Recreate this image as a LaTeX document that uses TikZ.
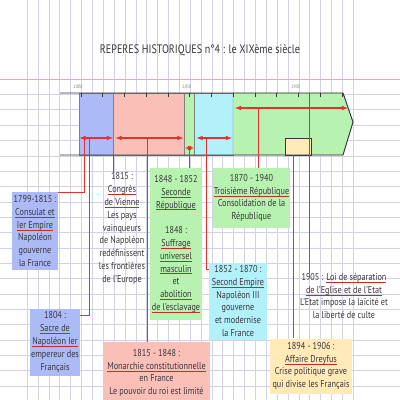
\documentclass[tikz,border=0pt]{standalone}
\usepackage{fontspec}
\setmainfont{PT Sans}[FakeStretch=0.82]
\usetikzlibrary{arrows}
\definecolor{ink}{RGB}{55,55,60}
\definecolor{gridc}{RGB}{210,210,228}
\definecolor{margin}{RGB}{230,160,220}
\definecolor{conred}{RGB}{225,50,45}
\definecolor{ulred}{RGB}{195,45,40}
\definecolor{cblue}{RGB}{172,186,246}
\definecolor{cpink}{RGB}{250,192,184}
\definecolor{cgreen}{RGB}{184,242,176}
\definecolor{ccyan}{RGB}{178,240,250}
\definecolor{cyellow}{RGB}{255,234,184}
\newcommand\rl[1]{\setbox0\hbox{#1}\rlap{\textcolor{ulred}{\rule[-2.2pt]{\wd0}{0.8pt}}}\box0}

\begin{document}
\begin{tikzpicture}[x=1pt, y=-1pt, font=\fontsize{10}{12.8}\selectfont,
  txt/.style={align=center, text=ink, inner sep=0pt},
  con/.style={draw=conred, line width=0.8pt},
  span/.style={draw=conred, line width=1.1pt, latex-latex},
  yr/.style={font=\fontsize{5}{5}\selectfont\itshape, text=gray, inner sep=0pt}]
\useasboundingbox (0,0) rectangle (400,400);
\fill[white] (0,0) rectangle (400,400);
\foreach \i in {0,...,30}{\draw[gridc, line width=0.4pt] (27+10.87*\i,0) -- (27+10.87*\i,400);}
\foreach \j in {1,...,21}{\draw[gridc, line width=0.5pt] (0,79+15.35*\j) -- (400,79+15.35*\j);}
\draw[margin, line width=0.8pt] (0,79) -- (400,79);
\path (200,50) node[txt, font=\fontsize{12.3}{13}\selectfont] (title) {REPERES HISTORIQUES n°4 : le XIXème siècle};

\filldraw[fill=cblue, draw=gray] (78.8,93) rectangle (113.6,155);
\filldraw[fill=cpink, draw=gray] (113.6,93) rectangle (184.5,155);
\filldraw[fill=cgreen, draw=gray] (184.5,93) rectangle (194.5,155);
\filldraw[fill=ccyan, draw=gray] (194.5,93) rectangle (233,155);
\filldraw[fill=cgreen, draw=gray] (233,93) -- (343,93) -- (353,122) -- (343,155) -- (233,155) -- cycle;
\filldraw[fill=cyellow, draw=ink] (285.5,138) rectangle (311.5,155);
\draw[ink, line width=0.9pt] (60,93) -- (343,93) -- (353,122) -- (343,155) -- (60,155);
\foreach \i in {0,...,12}{\draw[ink, line width=0.7pt] (81+21.75*\i,93) -- (81+21.75*\i,96.5);}
\foreach \y/\k in {1800/0, 1850/5, 1900/10}{\path (78+21.75*\k,87) node[yr] (y\y) {\y};}

\coordinate (s1a) at (79.5,138); \coordinate (s1b) at (113,138);
\coordinate (s2a) at (115.5,138); \coordinate (s2b) at (183.5,138);
\coordinate (s3a) at (185,148); \coordinate (s3b) at (194,148);
\coordinate (s4a) at (196.5,138); \coordinate (s4b) at (232,138);
\coordinate (s5a) at (235,108); \coordinate (s5b) at (348,108);
\foreach \a/\b in {s1a/s1b, s2a/s2b, s3a/s3b, s4a/s4b, s5a/s5b}{\draw[span] (\a) -- (\b);}

\node[txt, fill=cblue, minimum width=46, minimum height=78] (consulat) at (35,231) {1799-1815 :\\ \rl{Consulat et}\\ \rl{Ier Empire}\\ Napoléon\\ gouverne\\ la France};
\node[txt] (vienne) at (122,228.5) {1815 :\\ \rl{Congrès}\\ \rl{de Vienne}\\ Les pays\\ vainqueurs\\ de Napoléon\\ redéfinissent\\ les frontières\\ de l'Europe};
\node[txt, fill=cgreen, minimum width=52, minimum height=152] (seconde) at (176,244) {1848 - 1852\\ \rl{Seconde}\\ \rl{République}\\[12.8pt] 1848 :\\ \rl{Suffrage}\\ \rl{universel}\\ \rl{masculin}\\ et\\ \rl{abolition}\\ \rl{de l'esclavage}};
\node[txt, fill=cgreen, minimum width=77, minimum height=60] (troisieme) at (251.5,198) {1870 - 1940\\ \rl{Troisième République}\\ Consolidation de la\\ République};
\node[txt, fill=ccyan, minimum width=58, minimum height=77] (empire) at (238,301) {1852 - 1870 :\\ \rl{Second Empire}\\ Napoléon III\\ gouverne\\ et modernise\\ la France};
\node[txt, fill=cblue, minimum width=50, minimum height=67] (sacre) at (55,342) {1804 :\\ \rl{Sacre de}\\ \rl{Napoléon Ier}\\ empereur des\\ Français};
\node[txt, fill=cpink, minimum width=107, minimum height=62] (monarchie) at (156.5,373) {1815 - 1848 :\\ \rl{Monarchie constitutionnelle}\\ en France\\ Le pouvoir du roi est limité};
\node[txt, fill=cyellow, minimum width=82, minimum height=55] (dreyfus) at (311,366) {1894 - 1906 :\\ \rl{Affaire Dreyfus}\\ Crise politique grave\\ qui divise les Français};
\node[txt] (laicite) at (344,296) {1905 : \rl{Loi de séparation}\\ \rl{de l'Eglise et de l'Etat}\\ L'Etat impose la laïcité et\\ la liberté de culte};

\coordinate (c1799) at (84,138);
\coordinate (c1804) at (89,138);
\coordinate (c1815) at (113.6,155);
\coordinate (c1830) at (147,138);
\coordinate (c1850) at (189.5,148);
\coordinate (c1860) at (206,138);
\coordinate (c1880) at (258,108);
\coordinate (c1894) at (293,155);
\coordinate (c1905) at (309.5,93);
\draw[con] (c1799) |- ([yshift=-1pt]consulat.north east);
\draw[con] (c1804) |- ([yshift=-7pt]sacre.north east);
\draw[con] (c1815) -- (c1815 |- vienne.north);
\draw[con] (c1830) -- (c1830 |- monarchie.north);
\draw[con] (c1850) -- (c1850 |- seconde.north);
\draw[con] (c1860) |- ([yshift=-7pt]empire.north west);
\draw[con] (c1880) -- (c1880 |- troisieme.north);
\draw[con] (c1894) -- (c1894 |- dreyfus.north);
\draw[con] (c1905) -- (c1905 |- laicite.north);
\end{tikzpicture}
\end{document}
